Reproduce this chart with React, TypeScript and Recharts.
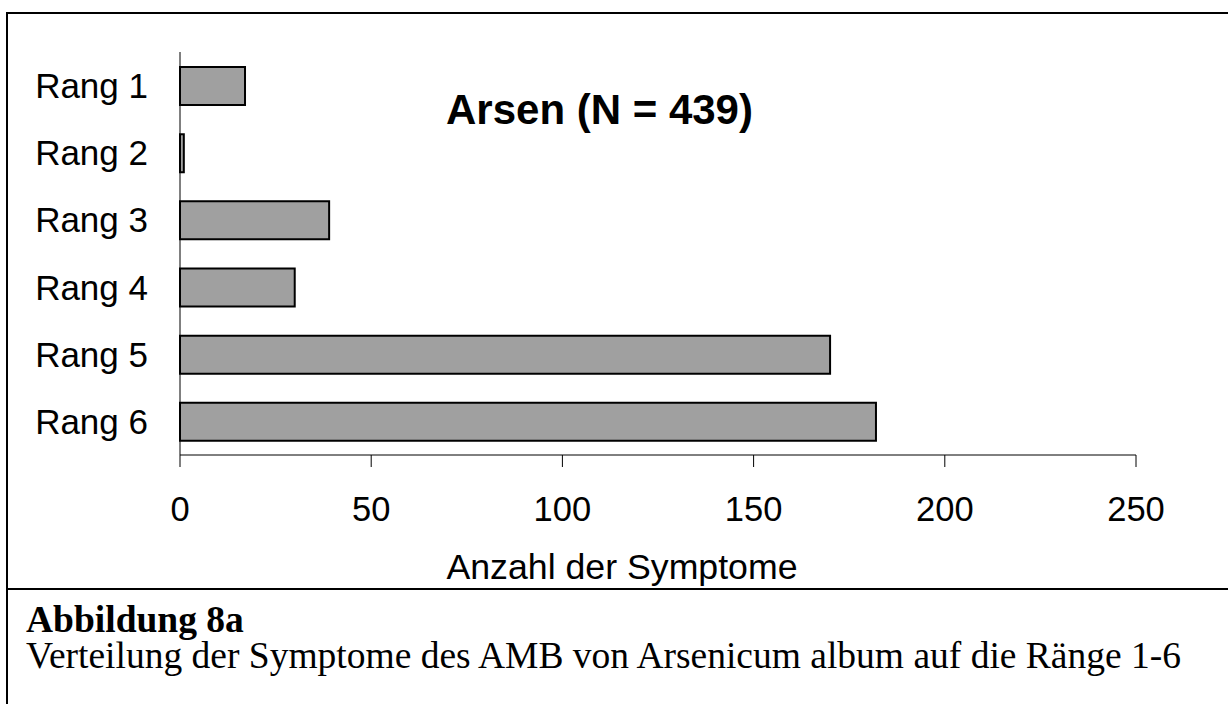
import { Bar, BarChart, XAxis, YAxis } from "recharts";

const categories = ["Rang 1", "Rang 2", "Rang 3", "Rang 4", "Rang 5", "Rang 6"];
const symptomCounts = [17, 1, 39, 30, 170, 182];
const xTicks = [0, 50, 100, 150, 200, 250];

const chartData = categories.map((name, i) => ({ name, count: symptomCounts[i] }));

const sans = "'Liberation Sans', Arial, sans-serif";
const serif = "'Liberation Serif', 'Times New Roman', serif";

export default function App() {
  return (
    <div style={{ position: "absolute", left: 0, top: 0, width: 1228, height: 704, overflow: "hidden", background: "#fff" }}>
      {/* frame */}
      <div style={{ position: "absolute", left: 6, top: 12, width: 1240, height: 720, borderLeft: "2px solid #000", borderTop: "2px solid #000" }} />
      <div style={{ position: "absolute", left: 6, top: 588, width: 1240, height: 0, borderTop: "2px solid #000" }} />

      <div style={{ position: "absolute", left: 0, top: 0 }}>
        <BarChart
          width={1228}
          height={589}
          layout="vertical"
          data={chartData}
          margin={{ top: 52, right: 92, bottom: 0, left: 0 }}
        >
          <XAxis
            type="number"
            domain={[0, 250]}
            ticks={xTicks}
            interval={0}
            height={134}
            tickSize={12}
            tickMargin={30}
            stroke="#000"
            tick={{ fill: "#000", fontSize: 34.5, fontFamily: sans }}
            label={{ value: "Anzahl der Symptome", position: "insideBottom", offset: 10, dx: -36, fill: "#000", fontSize: 35.7, fontFamily: sans }}
          />
          <YAxis
            type="category"
            dataKey="name"
            width={180}
            tickLine={false}
            tickSize={0}
            tickMargin={32}
            stroke="#000"
            tick={{ fill: "#000", fontSize: 35, fontFamily: sans }}
          />
          <Bar dataKey="count" fill="#a0a0a0" stroke="#000" strokeWidth={2} barSize={38} isAnimationActive={false} />
        </BarChart>
      </div>

      <div style={{ position: "absolute", left: 446, top: 89, fontFamily: sans, fontWeight: "bold", fontSize: 42, lineHeight: 1, whiteSpace: "nowrap" }}>
        Arsen (N = 439)
      </div>

      <div style={{ position: "absolute", left: 26, top: 602, fontFamily: serif, fontSize: 37.5, lineHeight: "36px", whiteSpace: "nowrap" }}>
        <div style={{ fontWeight: "bold" }}>Abbildung 8a</div>
        <div>Verteilung der Symptome des AMB von Arsenicum album auf die Ränge 1-6</div>
      </div>
    </div>
  );
}
